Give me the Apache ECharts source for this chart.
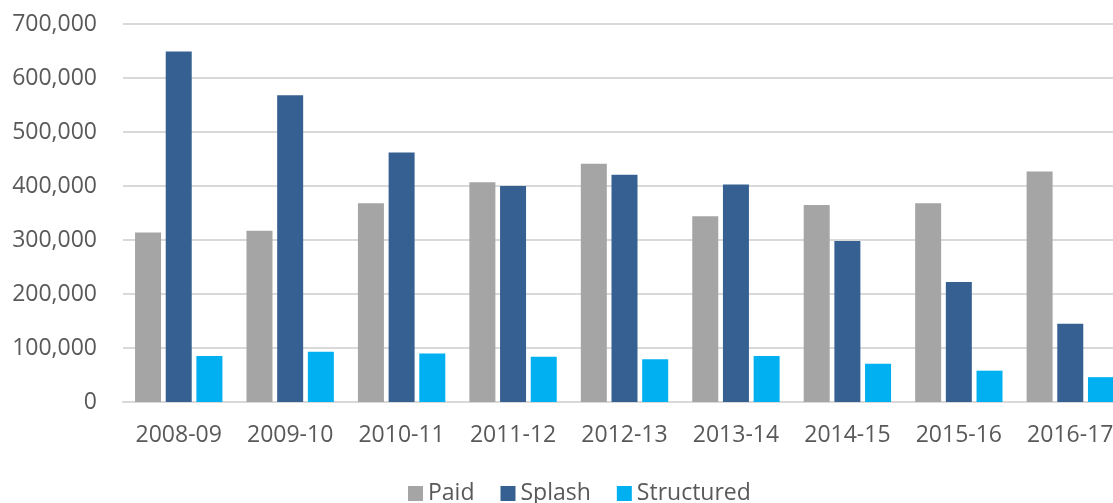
<!DOCTYPE html>
<html>
<head>
<meta charset="utf-8">
<script src="https://cdn.jsdelivr.net/npm/echarts@6/dist/echarts.min.js"></script>
<style>
    html, body { margin: 0; padding: 0; background: #fff; }
    #chart { width: 1113px; height: 503px; }
</style>
</head>
<body>
<div id="chart"></div>
<script>
// years
const categories = ['2008-09', '2009-10', '2010-11', '2011-12', '2012-13', '2013-14', '2014-15', '2015-16', '2016-17']
const paid = [314000, 317000, 368000, 407000, 441000, 344000, 365000, 368000, 427000]
const splash = [649000, 568000, 462000, 400000, 421000, 403000, 298000, 222000, 145000]
const structured = [85000, 93000, 90000, 84000, 79000, 85000, 71000, 58000, 46000]

const font = 'Open Sans'
const textColor = '#595959'

const chart = echarts.init(document.getElementById('chart'))

const option = {
    animation: false,
    color: ['#A5A5A5', '#376092', '#00B0F0'],
    legend: {
        left: 403,
        top: 477,
        itemWidth: 15,
        itemHeight: 15,
        itemGap: 26,
        icon: 'rect',
        textStyle: { fontFamily: font, fontSize: 23, color: textColor },
        data: ['Paid', 'Splash', 'Structured']
    },
    // plot runs past the right edge, like the cropped original
    grid: {
        top: 24,
        left: 123,
        width: 1003,
        bottom: 101,
        outerBoundsMode: 'none',
        containLabel: false
    },
    xAxis: {
        type: 'category',
        data: categories,
        axisTick: { show: false },
        axisLine: { lineStyle: { color: '#D9D9D9', width: 2 } },
        axisLabel: { fontFamily: font, fontSize: 23, color: textColor, margin: 22, interval: 0 }
    },
    yAxis: {
        type: 'value',
        min: 0,
        max: 700000,
        interval: 100000,
        axisLabel: {
            fontFamily: font,
            fontSize: 23,
            color: textColor,
            margin: 26,
            formatter: (v) => v.toLocaleString('en-US')
        },
        splitLine: { lineStyle: { color: '#D9D9D9', width: 2 } }
    },
    series: [
        { name: 'Paid', type: 'bar', barWidth: 26, barGap: '18%', data: paid },
        { name: 'Splash', type: 'bar', barWidth: 26, barGap: '18%', data: splash },
        { name: 'Structured', type: 'bar', barWidth: 26, barGap: '18%', data: structured }
    ]
}

chart.setOption(option)
</script>
</body>
</html>
